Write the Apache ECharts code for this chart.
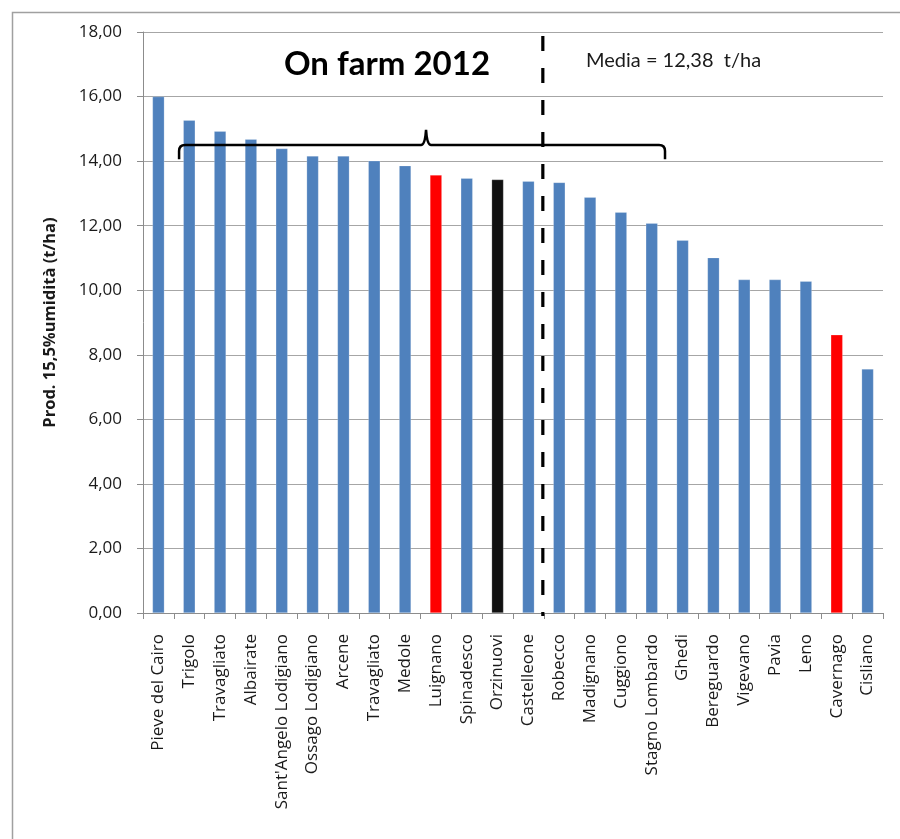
<!DOCTYPE html>
<html>
<head>
<meta charset="utf-8">
<script src="https://cdn.jsdelivr.net/npm/echarts@6/dist/echarts.min.js"></script>
<style>
  html, body { margin: 0; padding: 0; background: #ffffff; }
  #chart { width: 900px; height: 839px; }
</style>
</head>
<body>
<div id="chart"></div>
<script>
// Sites of the 2012 on-farm trial, ordered by yield
const categories = [
  'Pieve del Cairo', 'Trigolo', 'Travagliato', 'Albairate', "Sant'Angelo Lodigiano",
  'Ossago Lodigiano', 'Arcene', 'Travagliato', 'Medole', 'Luignano', 'Spinadesco',
  'Orzinuovi', 'Castelleone', 'Robecco', 'Madignano', 'Cuggiono', 'Stagno Lombardo',
  'Ghedi', 'Bereguardo', 'Vigevano', 'Pavia', 'Leno', 'Cavernago', 'Cisliano'
];

// Grain yield at 15.5% moisture (t/ha)
const yields = [
  16.00, 15.27, 14.93, 14.68, 14.39,
  14.16, 14.16, 14.01, 13.86, 13.57, 13.47,
  13.43, 13.38, 13.34, 12.88, 12.42, 12.08,
  11.55, 11.01, 10.33, 10.33, 10.28, 8.62, 7.56
];

// Highlighted sites (by position in the list)
const redSites = [9, 22];
const blackSites = [11];

// Group bracket: first and last site covered, and the level it sits at
const bracketGroup = [[1, 16, 14.5]];
// Split marker placed between Castelleone and Robecco
const splitBefore = [[13, 0]];

const axisFont = 'Open Sans';
const textColor = '#1a1a1a';
const gridColor = '#a6a6a6';
const fmt = v => v.toFixed(2).replace('.', ',');

const chart = echarts.init(document.getElementById('chart'), null, { renderer: 'canvas' });

chart.setOption({
  animation: false,
  backgroundColor: '#ffffff',
  grid: { left: 143, top: 32, width: 740, height: 581, containLabel: false },
  xAxis: {
    type: 'category',
    data: categories,
    axisLine: { show: true, lineStyle: { color: '#8c8c8c', width: 1 } },
    axisTick: { show: true, length: 6, lineStyle: { color: '#8c8c8c' } },
    axisLabel: {
      interval: 0, rotate: 90, margin: 21,
      fontFamily: axisFont, fontSize: 17, color: textColor
    },
    splitLine: { show: false }
  },
  yAxis: {
    type: 'value',
    min: 0, max: 18, interval: 2,
    name: 'Prod. 15,5%umidità (t/ha)',
    nameLocation: 'middle',
    nameGap: 84,
    nameRotate: 90,
    nameTextStyle: { fontFamily: axisFont, fontWeight: 'bold', fontSize: 16.5, color: textColor },
    axisLine: { show: true, lineStyle: { color: '#8c8c8c', width: 1 } },
    axisTick: { show: true, length: 6, lineStyle: { color: '#8c8c8c' } },
    axisLabel: {
      margin: 21, formatter: fmt,
      fontFamily: axisFont, fontSize: 17, color: textColor
    },
    splitLine: { show: true, lineStyle: { color: gridColor, width: 1.2 } }
  },
  graphic: [
    {
      type: 'rect', left: 10, top: 10, z: -10, silent: true,
      shape: { width: 920, height: 860 },
      style: { fill: 'none', stroke: '#a0a0a0', lineWidth: 1.5 }
    },
    {
      type: 'text', x: 387, y: 64, z: 10,
      style: {
        text: 'On farm 2012', align: 'center', verticalAlign: 'middle',
        font: 'bold 33px Lato', fill: '#000000'
      }
    },
    {
      type: 'text', x: 586, y: 61, z: 10,
      style: {
        text: 'Media = 12,38  t/ha', align: 'left', verticalAlign: 'middle',
        font: '20px Lato', fill: textColor
      }
    }
  ],
  series: [
    {
      type: 'bar',
      data: yields,
      barWidth: 12,
      itemStyle: {
        color: p => redSites.includes(p.dataIndex) ? '#ff0000'
          : blackSites.includes(p.dataIndex) ? '#111111' : '#4f81bd',
        borderColor: 'rgba(255,255,255,0.35)',
        borderWidth: 0.6
      },
      z: 2
    },
    {
      // curly bracket grouping the central sites
      type: 'custom',
      data: bracketGroup,
      clip: false,
      z: 5,
      renderItem: (params, api) => {
        const band = api.size([1, 0])[0];
        const mid = api.coord([api.value(0), api.value(2)]);
        const xl = api.coord([api.value(0), 0])[0] - band * 0.33;
        const xr = api.coord([api.value(1), 0])[0] + band * 0.43;
        const y = mid[1];
        const yEnd = api.coord([0, api.value(2) - 0.44])[1];
        const yPeak = api.coord([0, api.value(2) + 0.47])[1];
        const xm = (xl + xr) / 2 + 4;
        const r = 6;
        const d = `M${xl},${yEnd} L${xl},${y + r} Q${xl},${y} ${xl + r},${y} ` +
          `L${xm - 5},${y} Q${xm - 1},${y} ${xm},${yPeak} Q${xm + 1},${y} ${xm + 5},${y} ` +
          `L${xr - r},${y} Q${xr},${y} ${xr},${y + r} L${xr},${yEnd}`;
        return {
          type: 'path',
          shape: { pathData: d },
          style: { fill: 'none', stroke: '#000000', lineWidth: 2.5 }
        };
      }
    },
    {
      // dashed divider between the two groups of sites
      type: 'custom',
      data: splitBefore,
      clip: false,
      z: 6,
      renderItem: (params, api) => {
        const band = api.size([1, 0])[0];
        const x = api.coord([api.value(0), 0])[0] - band / 2 - 1;
        const yTop = api.coord([0, 18])[1] + 4;
        const yBot = api.coord([0, 0])[1] + 3;
        return {
          type: 'line',
          shape: { x1: x, y1: yTop, x2: x, y2: yBot },
          style: { stroke: '#000000', lineWidth: 3.2, lineDash: [15, 17] }
        };
      }
    }
  ]
});
</script>
</body>
</html>
